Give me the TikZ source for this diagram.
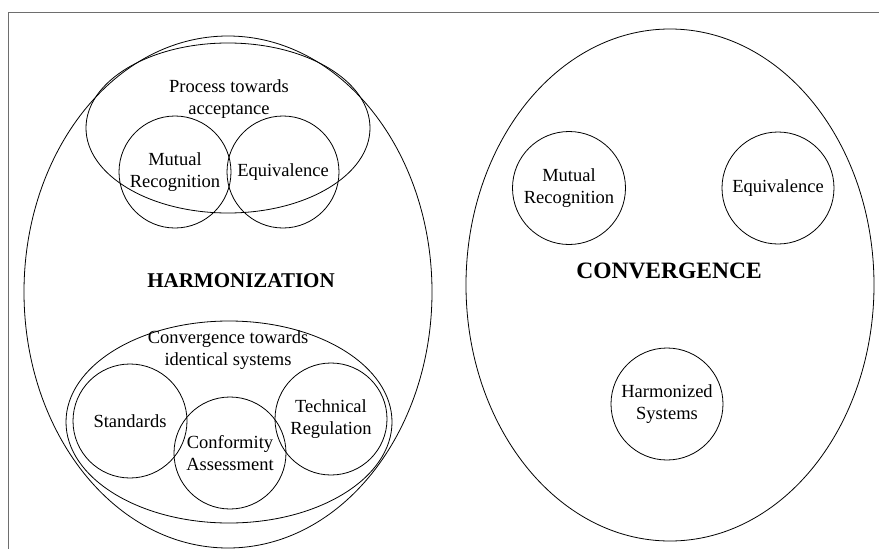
\documentclass[tikz,border=0pt]{standalone}
\usepackage{fontspec}
\setmainfont{Liberation Serif}
\usetikzlibrary{shapes.geometric}
\definecolor{framecol}{RGB}{110,110,110}
\begin{document}
\begin{tikzpicture}[x=1pt,y=-1pt,
  ring/.style={draw, ellipse, inner sep=0pt, line width=0.8pt},
  circ/.style={draw, circle, minimum size=112pt, inner sep=0pt, align=center,
    font=\fontsize{18.5}{22}\selectfont, line width=0.8pt},
  lbl/.style={align=center, font=\fontsize{18.5}{22}\selectfont},
  ttl/.style={font=\fontsize{23.5}{28}\selectfont\bfseries}]
\useasboundingbox (0,0) rectangle (879,549);
\coordinate (ftr) at (879,12);
\coordinate (ftl) at (8,12);
\coordinate (fbl) at (8,549);
\draw[framecol, line width=1pt] (ftr) -- (ftl) -- (fbl);
% big ellipses
\node[ring, minimum width=408pt, minimum height=512pt] (harm) at (228,292) {};
\node[ring, minimum width=408pt, minimum height=512pt] (conv) at (670,285) {};
% inner ellipses
\node[ring, minimum width=284pt, minimum height=170pt] (proc) at (228,128) {};
\node[ring, minimum width=326pt, minimum height=202pt] (ident) at (229,422) {};
% labels
\node[lbl] (proct) at (229,99) {Process towards\\acceptance};
\node[lbl] (identt) at (228,350) {Convergence towards\\identical systems};
\node[ttl, font=\fontsize{21}{25}\selectfont\bfseries] (harmt) at (241,281) {HARMONIZATION};
\node[ttl] (convt) at (669,271) {CONVERGENCE};
% circles left
\node[circ] (mr1) at (175,172) {Mutual\\Recognition};
\node[circ] (eq1) at (283,172) {Equivalence};
\node[circ, minimum size=114pt] (std) at (130,421) {Standards};
\node[circ] (ca) at (230,453) {Conformity\\Assessment};
\node[circ] (tr) at (331,419) {Technical\\Regulation};
% circles right
\node[circ, minimum size=113pt] (mr2) at (569,188) {Mutual\\Recognition};
\node[circ] (eq2) at (778,188) {Equivalence};
\node[circ] (hs) at (667,404) {Harmonized\\Systems};
\end{tikzpicture}
\end{document}
